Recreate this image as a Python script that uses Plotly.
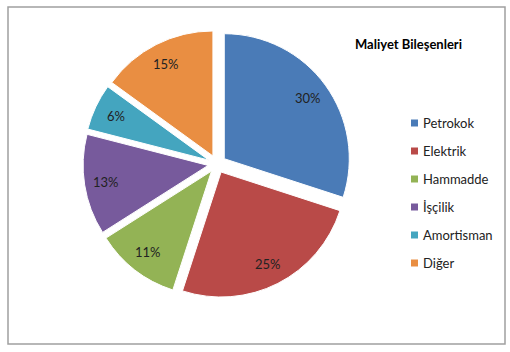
import math
import plotly.graph_objects as go

categories = ["Petrokok", "Elektrik", "Hammadde", "İşçilik", "Amortisman", "Diğer"]
values = [30, 25, 11, 13, 6, 15]
colors = ["#4A7BB7", "#B94A48", "#93B355", "#775A9C", "#44A5BF", "#E98E42"]
title_text = "Maliyet Bileşenleri"

W, H = 510, 352
FONT = "Lato"

# pie geometry (pixels)
cx, cy = 217, 164          # center, y from top
r = 125
pull = 0.072
half = r * (1 + pull)

fig = go.Figure()
fig.add_trace(go.Pie(
    labels=categories,
    values=values,
    sort=False,
    direction="clockwise",
    rotation=0,
    pull=pull,
    marker=dict(colors=colors, line=dict(color="white", width=1)),
    textinfo="none",
    hoverinfo="label+percent",
    showlegend=False,
    domain=dict(x=[(cx - half) / W, (cx + half) / W],
                y=[(H - cy - half) / H, (H - cy + half) / H]),
))

annotations = []
total = sum(values)
cum = 0
d = 112
for v in values:
    mid = (cum + v / 2) / total * 2 * math.pi
    cum += v
    px = cx + d * math.sin(mid)
    py = cy - d * math.cos(mid)
    annotations.append(dict(
        x=px / W, y=1 - py / H, xref="paper", yref="paper",
        text=f"{round(v / total * 100)}%", showarrow=False,
        font=dict(family=FONT, size=13, color="#222222"),
        xanchor="center", yanchor="middle"))

# title
annotations.append(dict(
    x=353 / W, y=1 - 44 / H, xref="paper", yref="paper",
    text=f"<b>{title_text}</b>", showarrow=False,
    font=dict(family=FONT, size=13, color="#000000"),
    xanchor="left", yanchor="middle"))

shapes = []
# custom legend
ly0, lstep = 123, 28
for i, (lab, col) in enumerate(zip(categories, colors)):
    yc = ly0 + i * lstep
    shapes.append(dict(type="rect", xref="paper", yref="paper",
                       x0=411 / W, x1=418 / W,
                       y0=1 - (yc + 3.5) / H, y1=1 - (yc - 3.5) / H,
                       fillcolor=col, line=dict(width=0)))
    annotations.append(dict(
        x=421 / W, y=1 - yc / H, xref="paper", yref="paper",
        text=lab, showarrow=False,
        font=dict(family=FONT, size=13, color="#222222"),
        xanchor="left", yanchor="middle"))

# chart border
shapes.append(dict(type="rect", xref="paper", yref="paper",
                   x0=8 / W, x1=505 / W, y0=1 - 344 / H, y1=1 - 7 / H,
                   line=dict(color="#A0A0A0", width=1.5), fillcolor="rgba(0,0,0,0)"))

fig.update_layout(
    width=W, height=H,
    margin=dict(l=0, r=0, t=0, b=0),
    paper_bgcolor="white",
    plot_bgcolor="white",
    annotations=annotations,
    shapes=shapes,
    font=dict(family=FONT),
)

fig.write_html("out.html")
